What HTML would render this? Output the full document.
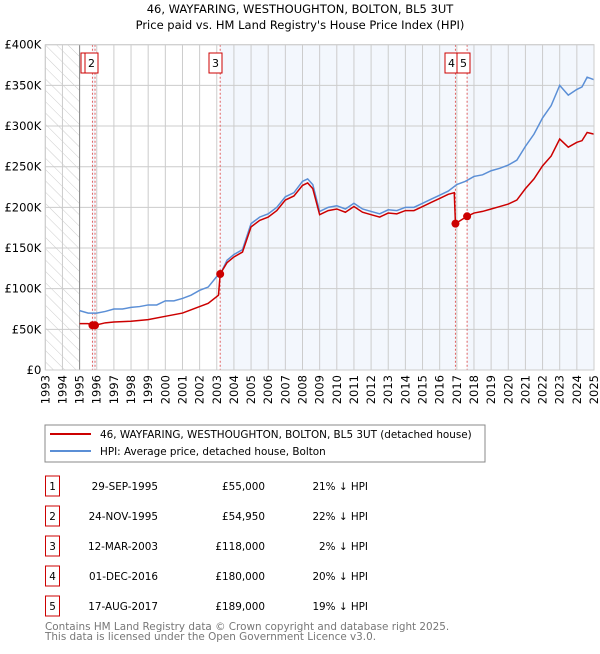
<!DOCTYPE html>
<html><head><meta charset="utf-8"><style>
body{margin:0;background:#fff;font-family:"DejaVu Sans","Liberation Sans",sans-serif;}
svg text{font-family:"DejaVu Sans","Liberation Sans",sans-serif;}
</style></head><body>
<svg id="c" width="600" height="650" xmlns="http://www.w3.org/2000/svg">
<defs><pattern id="hatch" width="8" height="8" patternUnits="userSpaceOnUse" patternTransform="rotate(-45)"><line x1="0" y1="0" x2="0" y2="8" stroke="#ccc" stroke-width="1"/></pattern></defs>
<text x="300" y="13" text-anchor="middle" font-size="11.5">46, WAYFARING, WESTHOUGHTON, BOLTON, BL5 3UT</text>
<text x="300" y="29" text-anchor="middle" font-size="11.5">Price paid vs. HM Land Registry's House Price Index (HPI)</text>
<g id="plot"></g>
<rect x="45" y="425" width="440" height="37" fill="#fff" stroke="#888"/>
<line x1="50" y1="434" x2="91" y2="434" stroke="#cc0000" stroke-width="2"/>
<text x="100" y="438" font-size="10.4">46, WAYFARING, WESTHOUGHTON, BOLTON, BL5 3UT (detached house)</text>
<line x1="50" y1="451" x2="91" y2="451" stroke="#5b8fd6" stroke-width="2"/>
<text x="100" y="455" font-size="10.4">HPI: Average price, detached house, Bolton</text>
<g id="table" font-size="10.4"></g>
<text x="45" y="630" font-size="10.4" fill="#777">Contains HM Land Registry data © Crown copyright and database right 2025.</text>
<text x="45" y="640" font-size="10.4" fill="#777">This data is licensed under the Open Government Licence v3.0.</text>
</svg>
<script>
const hpiYears=[1995,1995.5,1996,1996.5,1997,1997.5,1998,1998.5,1999,1999.5,2000,2000.5,2001,2001.5,2002,2002.5,2003,2003.3,2003.6,2004,2004.5,2005,2005.5,2006,2006.5,2007,2007.5,2008,2008.3,2008.6,2009,2009.5,2010,2010.5,2011,2011.5,2012,2012.5,2013,2013.5,2014,2014.5,2015,2015.5,2016,2016.5,2017,2017.5,2018,2018.5,2019,2019.5,2020,2020.5,2021,2021.5,2022,2022.5,2023,2023.5,2024,2024.3,2024.6,2025];
const hpiValues=[73,70,70,72,75,75,77,78,80,80,85,85,88,92,98,102,115,122,135,142,148,180,188,192,200,213,218,232,235,228,195,200,202,198,205,198,195,192,197,196,200,200,205,210,215,220,228,232,238,240,245,248,252,258,275,290,310,325,350,338,345,348,360,357];
const priceYears=[1995,1995.5,1995.75,1995.9,1996.5,1997,1998,1999,2000,2001,2001.5,2002,2002.5,2003.1,2003.2,2003.6,2004,2004.5,2005,2005.5,2006,2006.5,2007,2007.5,2008,2008.3,2008.6,2009,2009.5,2010,2010.5,2011,2011.5,2012,2012.5,2013,2013.5,2014,2014.5,2015,2015.5,2016,2016.5,2016.85,2016.92,2017.6,2018,2018.5,2019,2019.5,2020,2020.5,2021,2021.5,2022,2022.5,2023,2023.5,2024,2024.3,2024.6,2025];
const priceValues=[57,57,55,55,58,59,60,62,66,70,74,78,82,92,118,132,139,145,176,184,188,196,209,214,227,230,223,191,196,198,194,201,194,191,188,193,192,196,196,201,206,211,216,218,180,189,193,195,198,201,204,209,223,235,251,263,284,274,280,282,292,290];
const saleLabels=["1","2","3","4","5"];
const saleYears=[1995.75,1995.9,2003.2,2016.92,2017.6];
const saleValues=[55,54.95,118,180,189];
const saleDates=["29-SEP-1995","24-NOV-1995","12-MAR-2003","01-DEC-2016","17-AUG-2017"];
const salePrices=["£55,000","£54,950","£118,000","£180,000","£189,000"];
const saleDiffs=["21% ↓ HPI","22% ↓ HPI","2% ↓ HPI","20% ↓ HPI","19% ↓ HPI"];
const yTicks=[0,50,100,150,200,250,300,350,400];
const yTickLabels=["£0","£50K","£100K","£150K","£200K","£250K","£300K","£350K","£400K"];
const xTicks=[1993,1994,1995,1996,1997,1998,1999,2000,2001,2002,2003,2004,2005,2006,2007,2008,2009,2010,2011,2012,2013,2014,2015,2016,2017,2018,2019,2020,2021,2022,2023,2024,2025];

const X0=45.3,X1=594,Y0=370,Y1=44.7;
const x=v=>X0+(v-1993)/(2025-1993)*(X1-X0);
const y=v=>Y0-v/400*(Y0-Y1);
const NS="http://www.w3.org/2000/svg";
const plot=document.getElementById('plot');
function mk(tag,attrs,parent){const e=document.createElementNS(NS,tag);for(const k in attrs)e.setAttribute(k,attrs[k]);(parent||plot).appendChild(e);return e;}

let e;
e=mk('rect',{x:x(1993),y:Y1,width:x(1995)-x(1993),height:Y0-Y1,fill:'url(#hatch)'});


const shades=[[saleYears[0],saleYears[1]],[saleYears[2],saleYears[3]],[saleYears[4],2025]];
shades.forEach(s=>{e=mk('rect',{x:x(s[0]),y:Y1,width:x(s[1])-x(s[0]),height:Y0-Y1,fill:'#eef3fc',opacity:0.7});

});
xTicks.forEach(t=>{e=mk('line',{x1:x(t),x2:x(t),y1:Y1,y2:Y0,stroke:'#ccc'});


e=mk('text',{x:0,y:0,'font-size':11.5,'text-anchor':'end',transform:`translate(${x(t)+4},${Y0+5}) rotate(-90)`});
e.textContent=t;

});
yTicks.forEach((t,i)=>{e=mk('line',{x1:X0,x2:X1,y1:y(t),y2:y(t),stroke:'#ccc'});


e=mk('text',{x:X0-4,y:y(t)+4,'font-size':11.5,'text-anchor':'end'});
e.textContent=yTickLabels[i];

});
e=mk('line',{x1:x(1995),x2:x(1995),y1:Y1,y2:Y0,stroke:'#888'});


saleYears.forEach(s=>{e=mk('line',{x1:x(s),x2:x(s),y1:Y1,y2:Y0,stroke:'#e06060','stroke-dasharray':'2,2'});

});
e=mk('polyline',{points:hpiYears.map((t,i)=>x(t)+','+y(hpiValues[i])).join(' '),fill:'none',stroke:'#5b8fd6','stroke-width':1.5});


e=mk('polyline',{points:priceYears.map((t,i)=>x(t)+','+y(priceValues[i])).join(' '),fill:'none',stroke:'#cc0000','stroke-width':1.5});


saleYears.forEach((s,i)=>{e=mk('circle',{cx:x(s),cy:y(saleValues[i]),r:4,fill:'#cc0000'});

});
const boxX=[81,85,209,445,457];
saleLabels.forEach((l,i)=>{e=mk('rect',{x:boxX[i],y:53,width:i==0?4:13,height:20,fill:'#fff',stroke:'#cc0000'});


if(i>0){e=mk('text',{x:boxX[i]+6.5,y:67,'font-size':11,'text-anchor':'middle'});
e.textContent=l;

}});
e=mk('rect',{x:X0,y:Y1,width:X1-X0,height:Y0-Y1,fill:'none',stroke:'#ccc'});



const tb=document.getElementById('table');
saleLabels.forEach((l,i)=>{const yy=483+i*30;
e=mk('rect',{x:45.5,y:yy-7,width:14,height:20,fill:'none',stroke:'#cc0000'},tb);


const cells=[[52.5,l,'middle'],[158,saleDates[i],'end'],[265,salePrices[i],'end'],[368,saleDiffs[i],'end']];
cells.forEach(c=>{e=mk('text',{x:c[0],y:yy+7,'text-anchor':c[2]},tb);
e.textContent=c[1];

});});
</script>
</body></html>
